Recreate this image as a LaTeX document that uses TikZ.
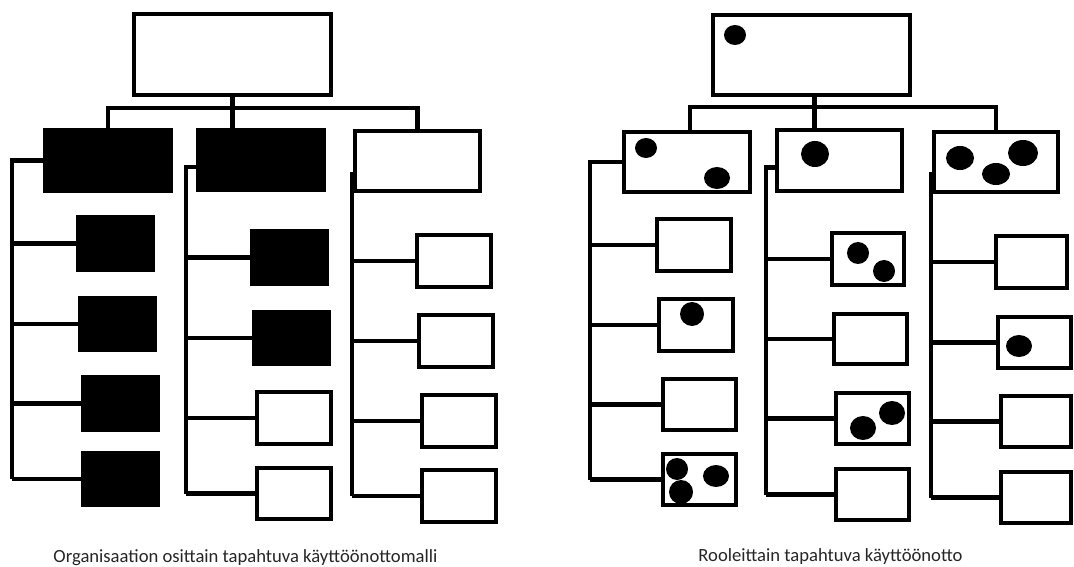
\documentclass[tikz,border=0pt]{standalone}
\usepackage{fontspec}
\setmainfont{Carlito}
\usetikzlibrary{fit,calc}

\begin{document}
\begin{tikzpicture}[x=0.02cm,y=-0.02cm,
  box/.style={draw,line width=0.096cm,inner sep=0pt,outer sep=0pt},
  full/.style={box,fill=black},
  link/.style={line width=0.096cm},
  blob/.style={fill=black},
  caption/.style={font=\fontsize{10.6}{12}\selectfont,anchor=base,text=black!85}]
\fill[white] (0,0) rectangle (1074,567);
\useasboundingbox (0,0) rectangle (1074,567);

% left tree: organisation part by part
\node[box, fit={(134,14) (331,95)}] (top) {};
\node[full, fit={(45,130) (171,191)}] (l1) {};
\node[full, fit={(198,130) (324,190)}] (l2) {};
\node[box, fit={(355,131) (480,191)}] (l3) {};
\node[full, fit={(78,217) (153,270)}] (c1a) {};
\node[full, fit={(80,298) (155,350)}] (c1b) {};
\node[full, fit={(83,377) (158,430)}] (c1c) {};
\node[full, fit={(83,453) (158,505)}] (c1d) {};
\node[full, fit={(252,231) (327,284)}] (c2a) {};
\node[full, fit={(254,312) (329,364)}] (c2b) {};
\node[box, fit={(257,392) (331,444)}] (c2c) {};
\node[box, fit={(257,468) (331,519)}] (c2d) {};
\node[box, fit={(417,235) (491,287)}] (c3a) {};
\node[box, fit={(419,315) (493,367)}] (c3b) {};
\node[box, fit={(422,395) (496,447)}] (c3c) {};
\node[box, fit={(422,470) (496,522)}] (c3d) {};

\coordinate (j) at ($(top.south)+(0,13)$);
\coordinate (s1) at (12,0);
\coordinate (s2) at (186,0);
\coordinate (s3) at (352,172);
\draw[link] (top.south) -- (top.south |- l2.north);
\draw[link] (l1.north) |- (j -| l3.north) -- (l3.north);
\draw[link] (l1.west) -| (s1 |- c1d.west);
\draw[link] ($(l2.west)+(0,7)$) -| (s2 |- c2d.west);
\draw[link] (s3) -- (s3 |- c3d.west);
\foreach \c in {c1a,c1b,c1c,c1d} \draw[link] (\c.west) -- (\c.west -| s1);
\foreach \c in {c2a,c2b,c2c,c2d} \draw[link] (\c.west) -- (\c.west -| s2);
\foreach \c in {c3a,c3b,c3c,c3d} \draw[link] (\c.west) -- (\c.west -| s3);

% right tree: role by role
\node[box, fit={(713,15) (910,95)}] (rtop) {};
\node[box, fit={(624,132) (750,192)}] (r1) {};
\node[box, fit={(777,130) (902,191)}] (r2) {};
\node[box, fit={(934,132) (1058,192)}] (r3) {};
\node[box, fit={(657,219) (731,271)}] (d1a) {};
\node[box, fit={(659,299) (733,351)}] (d1b) {};
\node[box, fit={(663,379) (736,430)}] (d1c) {};
\node[box, fit={(663,454) (736,505)}] (d1d) {};
\node[box, fit={(832,233) (904,285)}] (d2a) {};
\node[box, fit={(834,314) (907,364)}] (d2b) {};
\node[box, fit={(836,393) (909,444)}] (d2c) {};
\node[box, fit={(836,469) (909,520)}] (d2d) {};
\node[box, fit={(996,236) (1067,288)}] (d3a) {};
\node[box, fit={(998,317) (1071,368)}] (d3b) {};
\node[box, fit={(1001,396) (1071,447)}] (d3c) {};
\node[box, fit={(1001,472) (1071,523)}] (d3d) {};

\coordinate (rj) at ($(rtop.south)+(0,12)$);
\coordinate (t1) at (590,0);
\coordinate (t2) at (766,0);
\coordinate (t3) at (931,172);
\draw[link] ($(rtop.south)+(3,0)$) -- ($(rtop.south |- r2.north)+(3,0)$);
\draw[link] ($(r1.north)+(3,0)$) |- (rj -| r3.north) -- (r3.north);
\draw[link] (r1.west) -| (t1 |- d1d.west);
\draw[link] ($(r2.west)+(0,7)$) -| (t2 |- d2d.west);
\draw[link] (t3) -- (t3 |- d3d.west);
\foreach \c in {d1a,d1b,d1c,d1d} \draw[link] (\c.west) -- (\c.west -| t1);
\foreach \c in {d2a,d2b,d2c,d2d} \draw[link] (\c.west) -- (\c.west -| t2);
\foreach \c in {d3a,d3b,d3c,d3d} \draw[link] (\c.west) -- (\c.west -| t3);

% users already moved over
\fill[blob] (735,35) ellipse [x radius=11, y radius=10];
\fill[blob] (646,148) ellipse [x radius=11, y radius=10];
\fill[blob] (717,178) ellipse [x radius=13, y radius=11];
\fill[blob] (815,154) ellipse [x radius=14, y radius=13];
\fill[blob] (960,158) ellipse [x radius=14, y radius=12];
\fill[blob] (1023,153) ellipse [x radius=15, y radius=13];
\fill[blob] (996,174) ellipse [x radius=14, y radius=11];
\fill[blob] (692,314) ellipse [x radius=12, y radius=12];
\fill[blob] (677,469) ellipse [x radius=11, y radius=11];
\fill[blob] (681,492) ellipse [x radius=12, y radius=12];
\fill[blob] (716,476) ellipse [x radius=13, y radius=11];
\fill[blob] (858,253) ellipse [x radius=11, y radius=11];
\fill[blob] (884,271) ellipse [x radius=11, y radius=11];
\fill[blob] (863,428) ellipse [x radius=13, y radius=12];
\fill[blob] (892,413) ellipse [x radius=13, y radius=12];
\fill[blob] (1019,346) ellipse [x radius=13, y radius=11];

\node[caption] (cap1) at (245.5,562) {Organisaation osittain tapahtuva käyttöönottomalli};
\node[caption] (cap2) at (830.5,561.5) {Rooleittain tapahtuva käyttöönotto};
\end{tikzpicture}
\end{document}
